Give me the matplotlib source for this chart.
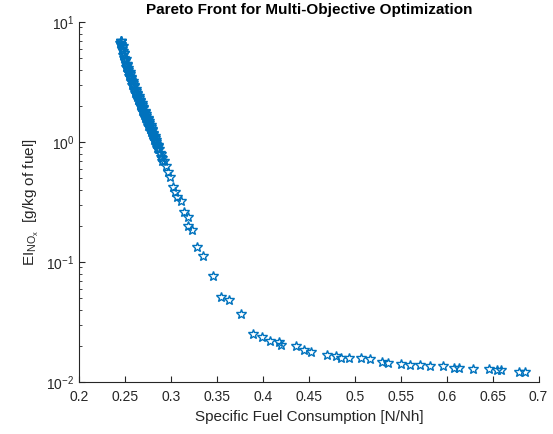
import matplotlib
matplotlib.use("Agg")
import matplotlib.pyplot as plt
from matplotlib.ticker import LogLocator, FixedLocator, FormatStrFormatter

plt.rcParams["font.family"] = ["Liberation Sans", "DejaVu Sans"]
plt.rcParams["mathtext.fontset"] = "custom"
plt.rcParams["mathtext.rm"] = "Liberation Sans"
plt.rcParams["mathtext.it"] = "Liberation Sans:italic"
plt.rcParams["mathtext.bf"] = "Liberation Sans:bold"
plt.rcParams["mathtext.default"] = "regular"

# Pareto front samples (SFC [N/Nh], EI_NOx [g/kg fuel])
# dense part of the front (top left), two overlapping strands
sfc_dense = [0.2443, 0.2449, 0.2452, 0.2457, 0.2469, 0.2473, 0.2486, 0.2489,
             0.2502, 0.2505, 0.2519, 0.2521, 0.2535, 0.2537, 0.2551, 0.2553,
             0.2567, 0.2569, 0.2583, 0.2585, 0.2599, 0.2601, 0.2615, 0.2617,
             0.2631, 0.2633, 0.2647, 0.2649, 0.2663, 0.2665, 0.2679, 0.2681,
             0.2695, 0.2697, 0.2711, 0.2713, 0.2727, 0.2729, 0.2743, 0.2745,
             0.2759, 0.2761, 0.2775, 0.2777, 0.2791, 0.2793, 0.2807, 0.2809,
             0.2823, 0.2825, 0.2839, 0.2841, 0.2855, 0.2857, 0.2871, 0.2873,
             0.2887, 0.2889, 0.2903, 0.2905]
eino_dense = [6.7, 6.9, 6.95, 6.5, 6.2, 5.7, 5.5, 5.05, 4.85, 4.45, 4.4, 4.1,
              4.0, 3.75, 3.7, 3.45, 3.38, 3.15, 3.1, 2.92, 2.9, 2.72, 2.68, 2.52,
              2.5, 2.35, 2.33, 2.2, 2.18, 2.04, 2.03, 1.92, 1.9, 1.78, 1.77, 1.66,
              1.65, 1.55, 1.54, 1.45, 1.44, 1.35, 1.34, 1.26, 1.25, 1.17, 1.16, 1.09,
              1.08, 1.01, 1.0, 0.95, 0.93, 0.88, 0.87, 0.81, 0.8, 0.75, 0.74, 0.70]

sfc_dense2 = [0.2449, 0.2456, 0.2463, 0.2471, 0.2479, 0.2487, 0.2495, 0.2503,
              0.2511, 0.2519, 0.2527, 0.2535, 0.2543, 0.2551, 0.2559, 0.2567,
              0.2575, 0.2583, 0.2591, 0.2599, 0.2607, 0.2615, 0.2623, 0.2631,
              0.2639, 0.2647, 0.2655, 0.2663, 0.2671, 0.2679, 0.2687, 0.2695,
              0.2703, 0.2711, 0.2719, 0.2727, 0.2735, 0.2743, 0.2751, 0.2759,
              0.2767, 0.2775, 0.2783, 0.2791, 0.2799, 0.2807, 0.2815, 0.2823,
              0.2831, 0.2839, 0.2847, 0.2855]
eino_dense2 = [6.4, 6.9, 5.95, 6.25, 5.3, 5.55, 4.7, 4.95, 4.2, 4.5, 3.85, 4.1,
               3.55, 3.8, 3.25, 3.48, 2.98, 3.2, 2.78, 2.98, 2.58, 2.78, 2.4, 2.58,
               2.23, 2.41, 2.09, 2.25, 1.95, 2.1, 1.82, 1.96, 1.69, 1.82, 1.58, 1.7,
               1.47, 1.59, 1.37, 1.48, 1.28, 1.38, 1.2, 1.28, 1.11, 1.19, 1.03, 1.11,
               0.96, 1.03, 0.89, 0.95]

# sparse part of the front (knee and tail)
sfc_sparse = [0.2922, 0.2940, 0.2965, 0.2984, 0.3024, 0.3038, 0.3060, 0.3111,
              0.3139, 0.3183, 0.3187, 0.3223, 0.3285, 0.3346, 0.3459, 0.3538,
              0.3630, 0.3763, 0.3893, 0.3991, 0.4074, 0.4172, 0.4190, 0.4364,
              0.4451, 0.4527, 0.4698, 0.4799, 0.4850, 0.4940, 0.5071, 0.5161,
              0.5296, 0.5357, 0.5505, 0.5596, 0.5712, 0.5821, 0.5959, 0.6074,
              0.6133, 0.6285, 0.6465, 0.6546, 0.6592, 0.6791, 0.6857]
eino_sparse = [0.69, 0.625, 0.56, 0.51, 0.425, 0.38, 0.35, 0.32,
               0.262, 0.238, 0.199, 0.184, 0.132, 0.112, 0.076, 0.051,
               0.048, 0.0365, 0.0252, 0.0237, 0.0218, 0.0215, 0.0204, 0.0200,
               0.0186, 0.0177, 0.0169, 0.0166, 0.0158, 0.0158, 0.0157, 0.0154,
               0.0147, 0.0145, 0.0142, 0.0139, 0.0139, 0.0135, 0.0135, 0.0131,
               0.0131, 0.0128, 0.0128, 0.0125, 0.0125, 0.0122, 0.0122]

sfc = sfc_dense + sfc_dense2 + sfc_sparse
eino = eino_dense + eino_dense2 + eino_sparse

x_ticks = [0.2, 0.25, 0.3, 0.35, 0.4, 0.45, 0.5, 0.55, 0.6, 0.65, 0.7]

BLUE = "#0072BD"
AXC = "#262626"

fig = plt.figure(figsize=(5.53, 4.34), dpi=100)
ax = fig.add_axes([0.1435, 0.12, 0.8305, 0.8295])

ax.plot(sfc, eino, linestyle="none", marker="*", markersize=7.5,
        markerfacecolor="none", markeredgecolor=BLUE, markeredgewidth=1.0)

ax.set_yscale("log")
ax.set_xlim(0.2, 0.7)
ax.set_ylim(1e-2, 1e1)
ax.xaxis.set_major_locator(FixedLocator(x_ticks))
ax.xaxis.set_major_formatter(FormatStrFormatter("%g"))
ax.yaxis.set_minor_locator(LogLocator(base=10, subs=range(2, 10)))
ax.yaxis.set_minor_formatter(plt.NullFormatter())

for s in ["top", "right"]:
    ax.spines[s].set_visible(False)
for s in ["left", "bottom"]:
    ax.spines[s].set_color(AXC)
    ax.spines[s].set_linewidth(0.8)

ax.tick_params(which="major", direction="in", length=4, width=0.8,
               colors=AXC, labelsize=10, labelcolor=AXC)
ax.tick_params(which="minor", direction="in", length=2, width=0.6, colors=AXC)
ax.tick_params(axis="x", pad=6)

ax.set_xlabel("Specific Fuel Consumption [N/Nh]", fontsize=11, color=AXC)
ax.set_ylabel(r"$EI_{NO_x}$  [g/kg of fuel]", fontsize=11, color=AXC)
ax.set_title("Pareto Front for Multi-Objective Optimization",
             fontsize=11, fontweight="bold", pad=6)

fig.savefig("out.png", dpi=100, facecolor="white")
